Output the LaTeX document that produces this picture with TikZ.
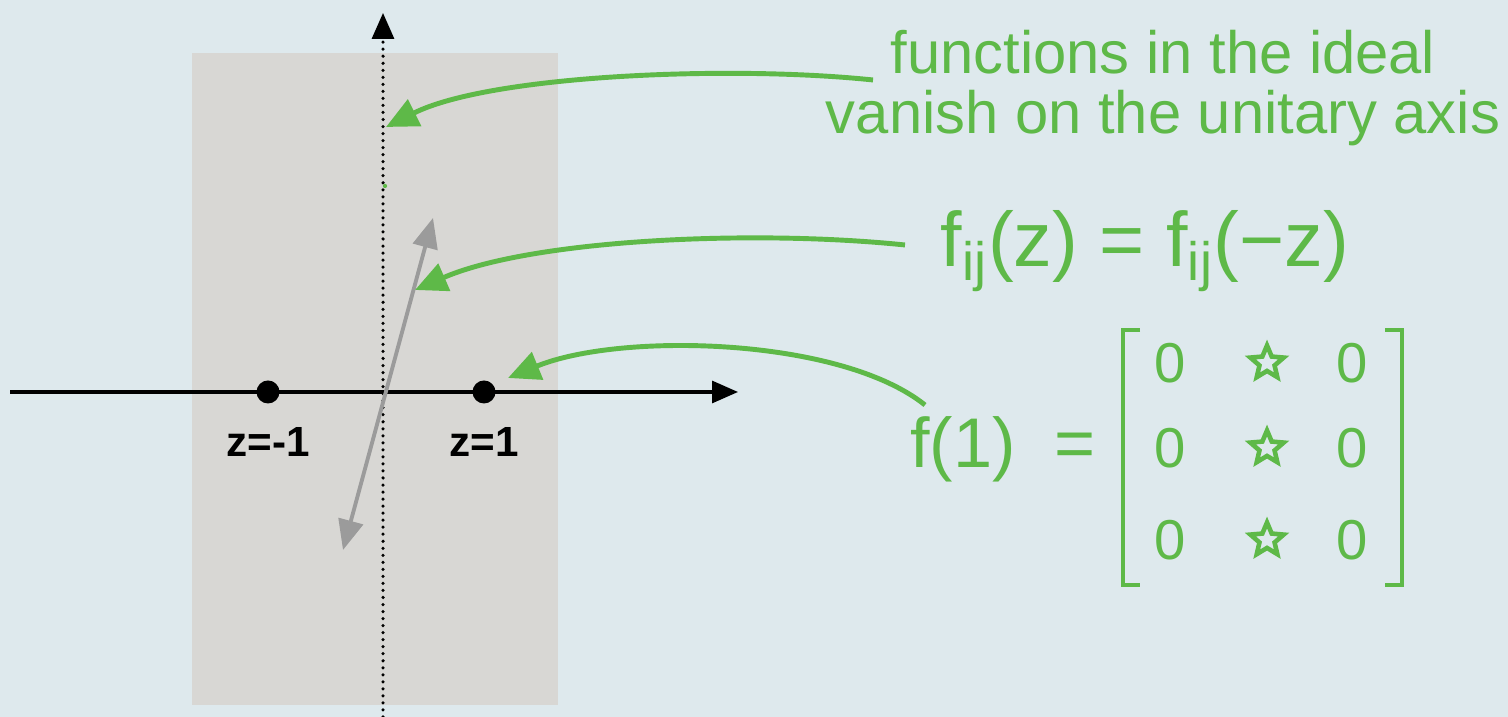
\documentclass[tikz,border=0pt]{standalone}
\usepackage{fontspec}
\setmainfont{Liberation Sans}
\usetikzlibrary{arrows.meta,positioning,shapes.geometric}
\definecolor{paper}{RGB}{222,233,237}
\definecolor{strip}{RGB}{216,215,212}
\definecolor{ink}{RGB}{94,185,72}
\definecolor{pointer}{RGB}{155,155,155}
\tikzset{
  axis line/.style   = {-{Triangle[length=2.6mm,width=2.2mm]}, line width=0.9pt},
  dotted axis/.style = {line width=1pt, line cap=round, dash pattern=on 0pt off 2pt},
  note arrow/.style  = {ink, line width=1.4pt, -{Triangle[length=3.2mm,width=2.9mm]}},
  swing/.style       = {pointer, line width=1.1pt,
                        {Triangle[length=3mm,width=2.5mm]}-{Triangle[length=3mm,width=2.5mm]}},
  point dot/.style   = {circle, fill=black, inner sep=0pt, minimum size=2.3mm},
  point label/.style = {font=\bfseries\fontsize{12}{14}\selectfont, inner sep=1pt},
  note/.style        = {text=ink, align=center, inner sep=1pt},
}

\begin{document}
\begin{tikzpicture}[
    entry/.style={text=ink, font=\fontsize{16}{18}\selectfont, inner sep=0pt},
    starentry/.style={star, star points=5, star point ratio=2.2, draw=ink,
                      line width=1.3pt, inner sep=0pt, minimum size=3.5mm},
  ]
  \useasboundingbox (0,0) rectangle (15.08,7.17);
  \fill[paper] (0,0) rectangle (15.08,7.17);

  % ---- the strip round the unitary axis ----------------------------------
  \fill[strip] (1.92,0.12) rectangle (5.58,6.64);

  % ---- axes ---------------------------------------------------------------
  \coordinate (xfrom) at (0.10,3.25);
  \coordinate (xto)   at (7.38,3.25);
  \coordinate (yfrom) at (3.83,0.00);
  \coordinate (yto)   at (3.83,7.04);
  \draw[dotted axis] (yfrom) -- (3.83,6.80);
  \draw[axis line] (3.83,6.82) -- (yto);
  \draw[axis line] (xfrom) -- (xto);

  % ---- the two points -----------------------------------------------------
  \node[point dot] (zminus) at (2.68,3.25) {};
  \node[point dot] (zplus)  at (4.84,3.25) {};
  \node[point label, below=1.9mm of zminus] (zminuslabel) {z=-1};
  \node[point label, below=1.9mm of zplus]  (zpluslabel)  {z=1};

  % ---- the swap z <-> -z --------------------------------------------------
  \coordinate (swingdown) at (3.43,1.67);
  \coordinate (swingup)   at (4.33,4.99);
  \draw[swing] (swingdown) -- (swingup);
  \fill[ink] (3.85,5.31) circle (0.6pt);

  % ---- notes ----------------------------------------------------------------
  \node[note, font=\fontsize{17}{17}\selectfont] (idealtext) at (11.63,6.29)
       {functions in the ideal\\vanish on the unitary axis};
  \node[note, font=\fontsize{22}{24}\selectfont] (symtext) at (11.45,4.66)
       {f\textsubscript{ij}(z) = f\textsubscript{ij}(−z)};
  \node[note, font=\fontsize{20}{22}\selectfont] (valtext) at (10.03,2.68)
       {f(1)\ \ =};

  % ---- the matrix f(1) --------------------------------------------------------
  \foreach \r/\y in {1/3.54,2/2.69,3/1.77} {
    \node[entry] (m\r a) at (11.70,\y) {0};
    \node[starentry] (m\r b) at (12.67,\y) {};
    \node[entry] (m\r c) at (13.52,\y) {0};
  }
  \draw[ink, line width=1.3pt] (11.40,3.87) -- (11.23,3.87) -- (11.23,1.32) -- (11.40,1.32);
  \draw[ink, line width=1.3pt] (13.85,3.87) -- (14.02,3.87) -- (14.02,1.32) -- (13.85,1.32);

  % ---- pointers from the notes ---------------------------------------------
  \coordinate (idealfrom) at (8.73,6.37);
  \coordinate (idealto)   at (3.86,5.90);
  \coordinate (symfrom)   at (9.05,4.72);
  \coordinate (symto)     at (4.15,4.27);
  \coordinate (valfrom)   at (9.25,3.12);
  \coordinate (valto)     at (5.08,3.39);
  \draw[note arrow] (idealfrom) .. controls (7.30,6.52) and (4.90,6.42) .. (idealto);
  \draw[note arrow] (symfrom) .. controls (7.50,4.88) and (5.30,4.77) .. (symto);
  \draw[note arrow] (valfrom) .. controls (8.40,3.80) and (6.20,3.85) .. (valto);
\end{tikzpicture}
\end{document}
